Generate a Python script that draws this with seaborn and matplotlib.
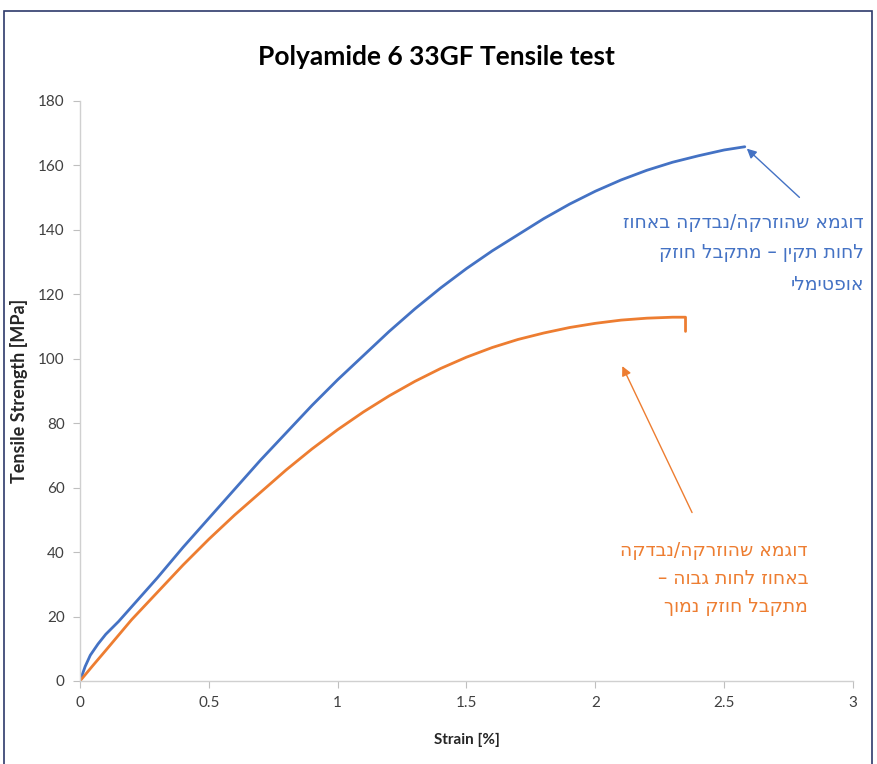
import pandas as pd
import matplotlib.pyplot as plt
import seaborn as sns
from matplotlib.patches import Rectangle

# tensile curves
blue_strain = [0, 0.02, 0.04, 0.07, 0.1, 0.15, 0.2, 0.3, 0.4, 0.5, 0.6, 0.7, 0.8,
               0.9, 1.0, 1.1, 1.2, 1.3, 1.4, 1.5, 1.6, 1.7, 1.8, 1.9, 2.0, 2.1,
               2.2, 2.3, 2.4, 2.5, 2.58]
blue_stress = [0, 4.5, 8, 11.5, 14.5, 18.5, 23, 32, 41.5, 50.5, 59.5, 68.5, 77,
               85.5, 93.5, 101, 108.5, 115.5, 122, 128, 133.5, 138.5, 143.5, 148, 152, 155.5,
               158.5, 161, 163, 164.8, 165.8]

orange_strain = [0, 0.05, 0.1, 0.2, 0.3, 0.4, 0.5, 0.6, 0.7, 0.8, 0.9, 1.0, 1.1,
                 1.2, 1.3, 1.4, 1.5, 1.6, 1.7, 1.8, 1.9, 2.0, 2.1, 2.2, 2.3, 2.35, 2.35]
orange_stress = [0, 4.8, 9.5, 19, 27.5, 36, 44, 51.5, 58.5, 65.5, 72, 78, 83.5,
                 88.5, 93, 97, 100.5, 103.5, 106, 108, 109.7, 111, 112, 112.6, 112.9, 112.9, 108.5]

x_ticks = [0, 0.5, 1, 1.5, 2, 2.5, 3]
x_tick_labels = ['0', '0.5', '1', '1.5', '2', '2.5', '3']
y_ticks = [0, 20, 40, 60, 80, 100, 120, 140, 160, 180]

blue_note = ['דוגמא שהוזרקה/נבדקה באחוז', 'לחות תקין – מתקבל חוזק', 'אופטימלי']
orange_note = ['דוגמא שהוזרקה/נבדקה', 'באחוז לחות גבוה –', 'מתקבל חוזק נמוך']

BLUE = '#4472C4'
ORANGE = '#ED7D31'


def rtl(line):
    # matplotlib has no bidi support, so reverse the visual order by hand
    return line[::-1]


sns.set_style('white')
plt.rcParams['font.family'] = ['Lato', 'DejaVu Sans']

df_blue = pd.DataFrame({'strain': blue_strain, 'stress': blue_stress})
df_orange = pd.DataFrame({'strain': orange_strain, 'stress': orange_stress})

fig = plt.figure(figsize=(8.77, 7.64), dpi=100)
ax = fig.add_axes([80 / 877, 1 - 681 / 764, 773 / 877, 580 / 764])

sns.lineplot(data=df_blue, x='strain', y='stress', ax=ax, color=BLUE,
             linewidth=2.0, estimator=None, sort=False)
sns.lineplot(data=df_orange, x='strain', y='stress', ax=ax, color=ORANGE,
             linewidth=2.0, estimator=None, sort=False)

ax.set_xlim(0, 3)
ax.set_ylim(0, 180)
ax.set_xticks(x_ticks)
ax.set_xticklabels(x_tick_labels)
ax.set_yticks(y_ticks)
ax.tick_params(axis='both', colors='#bfbfbf', labelcolor='#404040',
               labelsize=11, length=5, direction='out', pad=6)
ax.tick_params(axis='both', which='both', bottom=True, left=True)
for side in ['top', 'right']:
    ax.spines[side].set_visible(False)
for side in ['left', 'bottom']:
    ax.spines[side].set_color('#d0d0d0')
    ax.spines[side].set_linewidth(1.0)

ax.set_xlabel('Strain [%]', fontsize=11, fontweight='bold', color='#262626')
ax.xaxis.set_label_coords(0.5, -(733 - 681) / 580)
ax.set_ylabel('Tensile Strength [MPa]', fontsize=13, fontweight='bold', color='#262626')
ax.yaxis.set_label_coords(-(80 - 28) / 773, 0.5)

fig.text(436 / 877, 1 - 57 / 764, 'Polyamide 6 33GF Tensile test', ha='center', va='center',
         fontsize=19, fontweight='bold', color='#000000')

# annotations with arrows
hebrew = ['DejaVu Sans']
ax.annotate('', xy=(2.58, 165.8), xytext=(2.8, 149.5),
            arrowprops=dict(arrowstyle='-|>', color=BLUE, lw=1.0, mutation_scale=14))
ax.annotate('', xy=(2.1, 98.5), xytext=(2.38, 51.5),
            arrowprops=dict(arrowstyle='-|>', color=ORANGE, lw=1.0, mutation_scale=14))

for i, line in enumerate(blue_note):
    fig.text(864 / 877, 1 - (222 + 31 * i) / 764, rtl(line), ha='right', va='center',
             fontsize=13.5, color=BLUE, family=hebrew)
for i, line in enumerate(orange_note):
    fig.text(808 / 877, 1 - (550 + 28 * i) / 764, rtl(line), ha='right', va='center',
             fontsize=13.5, color=ORANGE, family=hebrew)

# navy frame around the chart area
fig.patches.append(Rectangle((4 / 877, -0.02), 868 / 877, 1.02 - 11 / 764,
                             transform=fig.transFigure, fill=False,
                             edgecolor='#2E3A6B', linewidth=1.2))

fig.savefig('out.png', dpi=100)
